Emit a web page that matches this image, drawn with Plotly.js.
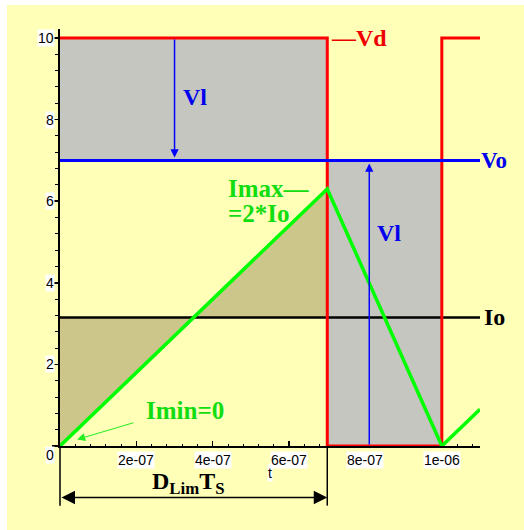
<!DOCTYPE html>
<html>
<head>
<meta charset="utf-8">
<script src="https://cdn.plot.ly/plotly-3.0.1.min.js"></script>
<style>
  html, body { margin: 0; padding: 0; background: #ffffff; }
  #chart { position: absolute; left: 7px; top: 5px; width: 517px; height: 525px; }
</style>
</head>
<body>
<div id="chart"></div>
<script>
// Buck converter at the edge of continuous conduction: one switching period
// Voltage across the diode, vd(t)
const vdTime  = [0, 7e-7, 7e-7, 1e-6, 1e-6, 1.1e-6];
const vdVolts = [10, 10, 0, 0, 10, 10];
// Inductor current, iL(t)
const iTime = [0, 7e-7, 1e-6, 1.1e-6];
const iAmps = [0, 6.3, 0, 0.9];
// Output voltage Vo and load current Io
const outputVolts = 7;
const loadAmps = 3.15;
// Where the two Vl arrows stand
const vlArrowTimes = [3e-7, 8.1e-7];
// Axis ticks
const xTickVals = [2e-7, 4e-7, 6e-7, 8e-7, 1e-6];
const xTickText = ['2e-07', '4e-07', '6e-07', '8e-07', '1e-06'];
const yTickVals = [0, 2, 4, 6, 8, 10];
const yTickText = ['0', '2', '4', '6', '8', '10'];

const period = vdTime[3];
const tOn = vdTime[1];
const tEnd = vdTime[vdTime.length - 1];
const vd = vdVolts[0];
const iMax = iAmps[1];
const tCross = tOn * loadAmps / iMax;
const yTop = 10.22;

const GRAY = '#c6c6c0';
const OLIVE = '#ccc68a';
const RED = '#ff0000';
const BLUE = '#0000ff';
const GREEN = '#00ff00';
const TXT_GREEN = '#11dd11';
const SERIF = '"Times New Roman", "Liberation Serif", serif';
const SANS = 'Arial, "Liberation Sans", sans-serif';
const TICK_FONT = { family: SANS, size: 14, color: '#000000' };

function area(x, y, color) {
  return { x, y, type: 'scatter', mode: 'lines', fill: 'toself', fillcolor: color,
           line: { width: 0, color: color }, hoverinfo: 'skip', showlegend: false };
}
function line(x, y, color, width) {
  return { x, y, type: 'scatter', mode: 'lines', line: { color, width },
           hoverinfo: 'skip', showlegend: false };
}

const traces = [
  // inductor voltage during on-time (Vd - Vo) and off-time (Vo)
  area([0, tOn, tOn, 0], [outputVolts, outputVolts, vd, vd], GRAY),
  area([tOn, period, period, tOn], [0, 0, outputVolts, outputVolts], GRAY),
  // charge areas between iL and Io
  area([0, 0, tCross], [0, loadAmps, loadAmps], OLIVE),
  area([tCross, tOn, tOn], [loadAmps, loadAmps, iMax], OLIVE),
  line([0, tEnd], [loadAmps, loadAmps], '#000000', 2.5),
  line(vdTime, vdVolts, RED, 3),
  line([0, tEnd], [outputVolts, outputVolts], BLUE, 3),
  line(iTime, iAmps, GREEN, 3.5)
];

const annotations = [];
// tick labels on white boxes
xTickVals.forEach((v, k) => annotations.push({
  x: v, xref: 'x', y: 0, yref: 'paper', yanchor: 'top', yshift: -5,
  text: xTickText[k], showarrow: false, bgcolor: '#ffffff', borderpad: 0, font: TICK_FONT
}));
yTickVals.forEach((v, k) => annotations.push({
  x: 0, xref: 'paper', xanchor: 'right', xshift: -5,
  y: v, yref: 'y', yanchor: v === 0 ? 'top' : 'middle', yshift: v === 0 ? 0 : 0,
  text: yTickText[k], showarrow: false, bgcolor: '#ffffff', borderpad: 0, font: TICK_FONT
}));
// axis title
annotations.push({
  x: tEnd / 2, xref: 'x', y: 0, yref: 'paper', yanchor: 'top', yshift: -18,
  text: 't', showarrow: false, bgcolor: '#ffffff', borderpad: 0, font: TICK_FONT
});
// curve labels
const bold = (size, color) => ({ family: SERIF, size, color, weight: 'bold' });
annotations.push(
  { x: tOn, y: vd, xanchor: 'left', yanchor: 'middle', xshift: 2, text: '—Vd',
    showarrow: false, font: bold(24, '#ee0000') },
  { x: tEnd, y: outputVolts, xanchor: 'left', yanchor: 'middle', xshift: -1, text: 'Vo',
    showarrow: false, font: bold(23, '#0000ee') },
  { x: tEnd, y: loadAmps, xanchor: 'left', yanchor: 'middle', xshift: 2, text: 'Io',
    showarrow: false, font: bold(24, '#000000') },
  { x: 3.53e-7, y: 8.55, text: 'Vl', showarrow: false, font: bold(24, '#0000ee') },
  { x: 8.61e-7, y: 5.23, text: 'Vl', showarrow: false, font: bold(24, '#0000ee') },
  { x: tOn, y: iMax, xanchor: 'right', yanchor: 'middle', xshift: -15, text: 'Imax—',
    showarrow: false, font: bold(25, TXT_GREEN) },
  { x: 4.35e-7, y: 5.71, xanchor: 'left', yanchor: 'middle', text: '=2*Io',
    showarrow: false, font: bold(25, TXT_GREEN) },
  { x: 2.2e-7, y: 0.88, xanchor: 'left', yanchor: 'middle', text: 'Imin=0',
    showarrow: false, font: bold(25, TXT_GREEN) },
  // pointer to the current minimum
  { x: 4.5e-8, y: 0.16, ax: 1.96e-7, ay: 0.58, axref: 'x', ayref: 'y', text: '',
    showarrow: true, arrowhead: 2, arrowsize: 1.6, arrowwidth: 1, arrowcolor: '#22ee22' },
  // Vl arrows: Vd - Vo while the switch is on, Vo while it is off
  { x: vlArrowTimes[0], y: outputVolts, ax: vlArrowTimes[0], ay: vd, axref: 'x', ayref: 'y',
    text: '', showarrow: true, arrowhead: 2, arrowsize: 1.1, arrowwidth: 1.5, arrowcolor: BLUE, standoff: 3 },
  { x: vlArrowTimes[1], y: outputVolts, ax: vlArrowTimes[1], ay: 0, axref: 'x', ayref: 'y',
    text: '', showarrow: true, arrowhead: 2, arrowsize: 1.1, arrowwidth: 1.5, arrowcolor: BLUE, standoff: 3 },
  // on-time span D_Lim * Ts
  { x: tOn, y: -0.1237, yref: 'paper', ax: 0, axref: 'x', ay: 0, ayref: 'pixel', text: '',
    showarrow: true, arrowside: 'end+start', arrowhead: 2, startarrowhead: 2,
    arrowsize: 1.8, startarrowsize: 1.8, arrowwidth: 1.5, arrowcolor: '#000000' },
  { x: tOn / 2, y: 0, yref: 'paper', yshift: -37, xshift: -5, yanchor: 'middle',
    text: 'D<sub>Lim</sub>T<sub>S</sub>', showarrow: false, font: bold(24, '#000000') }
);

const shapes = [0, tOn].map(t => ({
  type: 'line', xref: 'paper', yref: 'paper', x0: t / tEnd, x1: t / tEnd, y0: 0, y1: -0.143,
  line: { color: '#000000', width: 1.5 }
}));

const tickStyle = { tickcolor: '#000000', showgrid: false, zeroline: false, showticklabels: false };

const layout = {
  width: 517, height: 525,
  margin: { l: 53, r: 44, t: 24, b: 84 },
  paper_bgcolor: '#ffffb8', plot_bgcolor: '#ffffb8',
  showlegend: false,
  xaxis: Object.assign({
    range: [0, tEnd], showline: true, linecolor: '#000000', linewidth: 2,
    ticks: 'inside', ticklen: 5, tickwidth: 1.5, tickmode: 'array', tickvals: [0].concat(xTickVals),
    minor: { ticks: 'inside', ticklen: 2.5, tickwidth: 1, tickcolor: '#000000', dtick: 4e-8, tick0: 0, showgrid: false },
    layer: 'below traces'
  }, tickStyle),
  xaxis2: Object.assign({
    overlaying: 'x', anchor: 'y', range: [0, tEnd], showline: false,
    ticks: 'outside', ticklen: 2, tickwidth: 1.5, tickmode: 'array', tickvals: [0].concat(xTickVals),
    minor: { ticks: 'outside', ticklen: 2, tickwidth: 1, tickcolor: '#000000', dtick: 4e-8, tick0: 0, showgrid: false }
  }, tickStyle),
  yaxis: Object.assign({
    range: [0, yTop], showline: true, linecolor: '#000000', linewidth: 2,
    ticks: 'outside', ticklen: 6, tickwidth: 1.5, tickmode: 'array', tickvals: yTickVals,
    minor: { ticks: 'outside', ticklen: 3, tickwidth: 1, tickcolor: '#000000', dtick: 0.4, tick0: 0, showgrid: false },
    layer: 'above traces'
  }, tickStyle),
  yaxis2: Object.assign({
    overlaying: 'y', anchor: 'x', range: [0, yTop], showline: false,
    ticks: 'inside', ticklen: 2.5, tickwidth: 1.5, tickmode: 'array', tickvals: yTickVals,
    minor: { ticks: 'inside', ticklen: 3, tickwidth: 1, tickcolor: '#000000', dtick: 0.4, tick0: 0, showgrid: false }
  }, tickStyle),
  annotations, shapes
};

Plotly.newPlot('chart', traces, layout, { displayModeBar: false, staticPlot: true });
</script>
</body>
</html>
